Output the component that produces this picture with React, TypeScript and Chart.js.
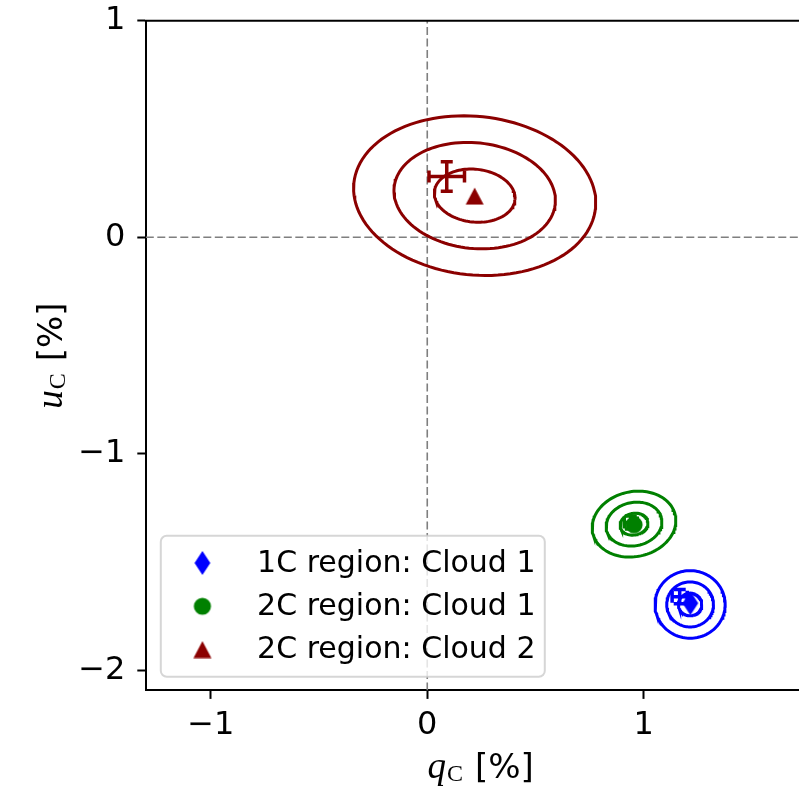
import React, { useEffect, useRef } from "react";
import { Chart, registerables } from "chart.js";

Chart.register(...registerables);

// ---- axis ranges and ticks ----
const X_MIN = -1.3;
const X_MAX = 1.717;
const Y_MIN = -2.093;
const Y_MAX = 1.0;
const xTicks = [-1, 0, 1];
const yTicks = [-2, -1, 0, 1];

// ---- series ----
const seriesLabels = ["1C region: Cloud 1", "2C region: Cloud 1", "2C region: Cloud 2"];
const seriesColors = ["#0000ff", "#008000", "#8b0000"];
const seriesMarkers = ["diamond", "circle", "triangle"];

// best-fit markers
const markerX = [1.215, 0.955, 0.219];
const markerY = [-1.69, -1.328, 0.19];

// measurement with error bars
const crossX = [1.166, 0.94, 0.09];
const crossY = [-1.66, -1.318, 0.28];
const crossXErr = [0.035, 0.03, 0.082];
const crossYErr = [0.033, 0.03, 0.068];

// contour ellipses (1σ parameters)
const ellCX = [1.214, 0.955, 0.219];
const ellCY = [-1.696, -1.325, 0.192];
const ellA = [0.054, 0.065, 0.187];
const ellB = [0.052, 0.05, 0.122];
const ellAngle = [0, 12, -6];
const sigmaLevels = [1, 2, 3];

function ellipsePoints(i: number, k: number) {
  const pts: { x: number; y: number }[] = [];
  const th = (ellAngle[i] * Math.PI) / 180;
  const n = 120;
  for (let j = 0; j <= n; j++) {
    const t = (2 * Math.PI * j) / n;
    const ex = k * ellA[i] * Math.cos(t);
    const ey = k * ellB[i] * Math.sin(t);
    pts.push({
      x: ellCX[i] + ex * Math.cos(th) - ey * Math.sin(th),
      y: ellCY[i] + ex * Math.sin(th) + ey * Math.cos(th),
    });
  }
  return pts;
}

function makeMarker(kind: string, color: string): HTMLCanvasElement {
  const c = document.createElement("canvas");
  const ctx = c.getContext("2d")!;
  if (kind === "diamond") {
    c.width = 18;
    c.height = 26;
    ctx.fillStyle = color;
    ctx.beginPath();
    ctx.moveTo(9, 1.1);
    ctx.lineTo(16.9, 13);
    ctx.lineTo(9, 24.9);
    ctx.lineTo(1.1, 13);
    ctx.closePath();
    ctx.fill();
  } else if (kind === "triangle") {
    c.width = 20;
    c.height = 18;
    ctx.fillStyle = color;
    ctx.beginPath();
    ctx.moveTo(10, 0.5);
    ctx.lineTo(19, 17.5);
    ctx.lineTo(1, 17.5);
    ctx.closePath();
    ctx.fill();
  } else {
    c.width = 20;
    c.height = 20;
    ctx.fillStyle = color;
    ctx.beginPath();
    ctx.arc(10, 10, 8.6, 0, Math.PI * 2);
    ctx.fill();
  }
  return c;
}

const fmtMinus = (v: number) => (v < 0 ? "\u2212" + Math.abs(v) : String(v));

export default function App() {
  const ref = useRef<HTMLCanvasElement | null>(null);

  useEffect(() => {
    const canvas = ref.current;
    if (!canvas) return;
    document.body.style.margin = "0";

    const markerImgs = seriesMarkers.map((m, i) => makeMarker(m, seriesColors[i]));
    const nSeries = seriesLabels.length;

    const datasets: any[] = [];
    // markers first (drawn last = on top)
    for (let i = 0; i < nSeries; i++) {
      datasets.push({
        label: seriesLabels[i],
        data: [{ x: markerX[i], y: markerY[i] }],
        pointStyle: markerImgs[i],
        pointRadius: 9,
        backgroundColor: seriesColors[i],
        borderWidth: 0,
        showLine: false,
      });
    }
    // ellipses
    for (let i = 0; i < nSeries; i++) {
      for (const k of sigmaLevels) {
        datasets.push({
          label: "",
          data: ellipsePoints(i, k),
          showLine: true,
          pointRadius: 0,
          borderColor: seriesColors[i],
          borderWidth: 3,
          tension: 0,
          fill: false,
        });
      }
    }
    // dashed reference lines
    datasets.push({
      label: "",
      data: [
        { x: 0, y: Y_MIN },
        { x: 0, y: Y_MAX },
      ],
      showLine: true,
      pointRadius: 0,
      borderColor: "#7f7f7f",
      borderWidth: 1.6,
      borderDash: [8, 3.5],
    });
    datasets.push({
      label: "",
      data: [
        { x: X_MIN, y: 0 },
        { x: X_MAX, y: 0 },
      ],
      showLine: true,
      pointRadius: 0,
      borderColor: "#7f7f7f",
      borderWidth: 1.6,
      borderDash: [8, 3.5],
    });

    const errorBarPlugin = {
      id: "errorBars",
      beforeDatasetDraw(chart: any, args: any) {
        if (args.index !== nSeries - 1) return;
        const { ctx, scales } = chart;
        const xs = scales.x;
        const ys = scales.y;
        ctx.save();
        ctx.setLineDash([]);
        ctx.lineWidth = 3.5;
        ctx.lineCap = "butt";
        const cap = 6;
        for (let i = 0; i < nSeries; i++) {
          ctx.strokeStyle = seriesColors[i];
          const cx = xs.getPixelForValue(crossX[i]);
          const cy = ys.getPixelForValue(crossY[i]);
          const x0 = xs.getPixelForValue(crossX[i] - crossXErr[i]);
          const x1 = xs.getPixelForValue(crossX[i] + crossXErr[i]);
          const y0 = ys.getPixelForValue(crossY[i] - crossYErr[i]);
          const y1 = ys.getPixelForValue(crossY[i] + crossYErr[i]);
          ctx.beginPath();
          ctx.moveTo(x0, cy);
          ctx.lineTo(x1, cy);
          ctx.moveTo(cx, y0);
          ctx.lineTo(cx, y1);
          ctx.moveTo(x0, cy - cap);
          ctx.lineTo(x0, cy + cap);
          ctx.moveTo(x1, cy - cap);
          ctx.lineTo(x1, cy + cap);
          ctx.moveTo(cx - cap, y0);
          ctx.lineTo(cx + cap, y0);
          ctx.moveTo(cx - cap, y1);
          ctx.lineTo(cx + cap, y1);
          ctx.stroke();
        }
        ctx.restore();
      },
    };

    const decorPlugin = {
      id: "decor",
      afterDraw(chart: any) {
        const { ctx, chartArea } = chart;
        const { left, right, top, bottom } = chartArea;
        ctx.save();
        // top spine
        ctx.strokeStyle = "#000";
        ctx.lineWidth = 2;
        ctx.beginPath();
        ctx.moveTo(left - 1, top);
        ctx.lineTo(right, top);
        ctx.stroke();

        // legend
        const bx = left + 15;
        const bw = 384;
        const bh = 141;
        const by = bottom - 13.7 - bh;
        ctx.beginPath();
        ctx.roundRect(bx, by, bw, bh, 6);
        ctx.fillStyle = "rgba(255,255,255,0.8)";
        ctx.fill();
        ctx.strokeStyle = "rgba(204,204,204,0.8)";
        ctx.lineWidth = 2;
        ctx.stroke();
        ctx.font = '30px "DejaVu Sans"';
        ctx.textBaseline = "middle";
        ctx.textAlign = "left";
        for (let i = 0; i < nSeries; i++) {
          const ry = by + 27.3 + i * 43.3;
          const img = markerImgs[i];
          ctx.drawImage(img, bx + 41.6 - img.width / 2, ry - img.height / 2);
          ctx.fillStyle = "#000";
          ctx.fillText(seriesLabels[i], bx + 96.3, ry + 1);
        }

        // axis titles
        const drawTitle = (v: string) => {
          ctx.textAlign = "left";
          ctx.textBaseline = "alphabetic";
          ctx.font = 'italic 37px "Liberation Serif"';
          const w1 = ctx.measureText(v).width;
          ctx.font = '24px "Liberation Serif"';
          const w2 = ctx.measureText("C").width;
          ctx.font = '34px "DejaVu Sans"';
          const w3 = ctx.measureText("[%]").width;
          const sp = 12;
          const total = w1 + 1 + w2 + sp + w3;
          let x = -total / 2;
          ctx.font = 'italic 37px "Liberation Serif"';
          ctx.fillText(v, x, 0);
          x += w1 + 1;
          ctx.font = '24px "Liberation Serif"';
          ctx.fillText("C", x, 3);
          x += w2 + sp;
          ctx.font = '34px "DejaVu Sans"';
          ctx.fillText("[%]", x, 0);
        };
        ctx.fillStyle = "#000";
        const axW = bottom - top; // square axes, partly cropped on the right
        ctx.save();
        ctx.translate(left + axW / 2, 778);
        drawTitle("q");
        ctx.restore();
        ctx.save();
        ctx.translate(62, (top + bottom) / 2);
        ctx.rotate(-Math.PI / 2);
        drawTitle("u");
        ctx.restore();
        ctx.restore();
      },
    };

    const tickFont = { family: '"DejaVu Sans"', size: 32 };

    const chart = new Chart(canvas, {
      type: "scatter",
      data: { datasets },
      plugins: [errorBarPlugin, decorPlugin],
      options: {
        animation: false,
        responsive: false,
        events: [],
        layout: { autoPadding: false, padding: { left: 0, right: 0, top: 20.7, bottom: 0 } },
        plugins: {
          legend: { display: false },
          tooltip: { enabled: false },
        },
        scales: {
          x: {
            type: "linear",
            min: X_MIN,
            max: X_MAX,
            afterBuildTicks: (s: any) => {
              s.ticks = xTicks.map((v) => ({ value: v }));
            },
            afterFit: (s: any) => {
              s.height = 793 - 690.4;
              s.paddingLeft = 0;
              s.paddingRight = 0;
              s.paddingTop = 0;
              s.paddingBottom = 0;
            },
            ticks: {
              font: tickFont,
              color: "#000",
              padding: 8,
              maxRotation: 0,
              callback: (v: any) => fmtMinus(Number(v)),
            },
            grid: {
              drawOnChartArea: false,
              drawTicks: true,
              tickLength: 8.5,
              tickWidth: 2,
              tickColor: "#000",
            },
            border: { display: true, color: "#000", width: 2 },
          },
          y: {
            type: "linear",
            min: Y_MIN,
            max: Y_MAX,
            afterBuildTicks: (s: any) => {
              s.ticks = yTicks.map((v) => ({ value: v }));
            },
            afterFit: (s: any) => {
              s.width = 145.8;
              s.paddingLeft = 0;
              s.paddingRight = 0;
              s.paddingTop = 0;
              s.paddingBottom = 0;
            },
            ticks: {
              font: tickFont,
              color: "#000",
              padding: 12,
              callback: (v: any) => fmtMinus(Number(v)),
            },
            grid: {
              drawOnChartArea: false,
              drawTicks: true,
              tickLength: 8.5,
              tickWidth: 2,
              tickColor: "#000",
            },
            border: { display: true, color: "#000", width: 2 },
          },
        },
      },
    });
    return () => chart.destroy();
  }, []);

  return (
    <div style={{ position: "fixed", left: 0, top: 0, width: 799, height: 793 }}>
      <canvas ref={ref} width={799} height={793} />
    </div>
  );
}
